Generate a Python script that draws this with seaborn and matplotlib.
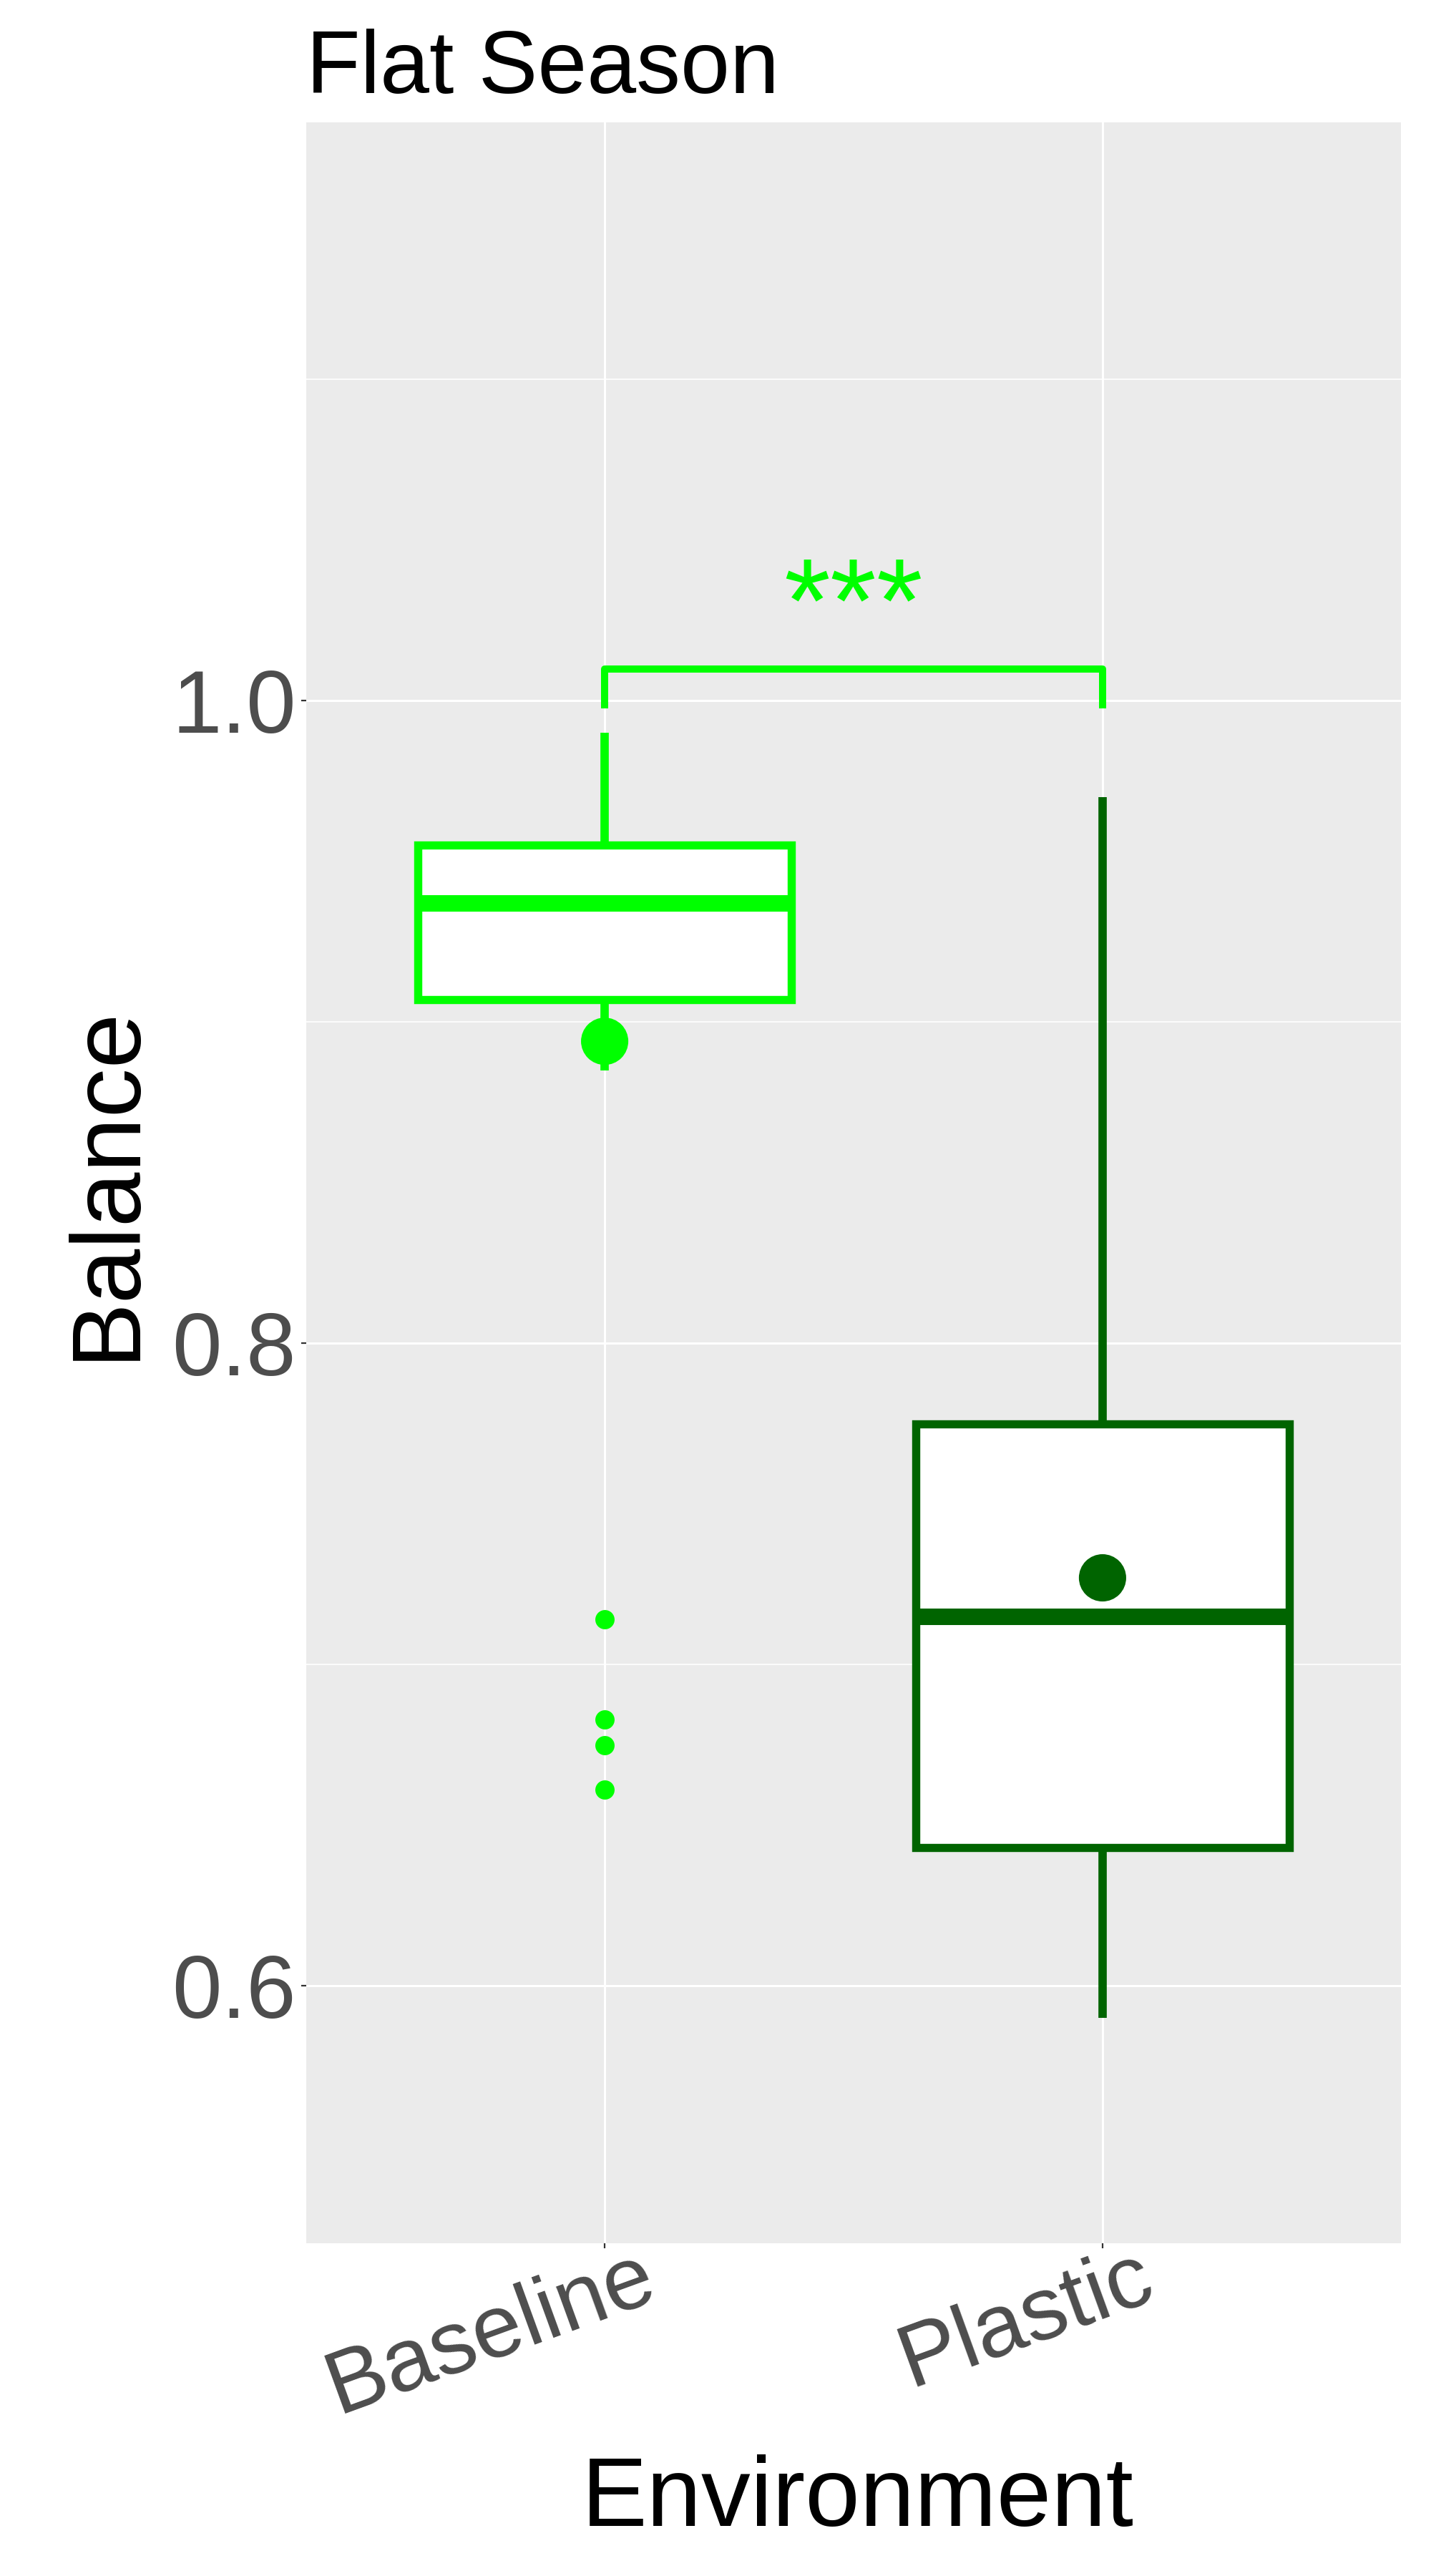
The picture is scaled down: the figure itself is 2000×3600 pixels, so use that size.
import matplotlib
matplotlib.use("Agg")
import matplotlib.pyplot as plt
import matplotlib.transforms as mtransforms
import pandas as pd
import seaborn as sns

# Dane (Flat Season)
environments = ["Baseline", "Plastic"]
box_colors = ["#00FF00", "#006400"]
q1 = [0.907, 0.643]
medians = [0.937, 0.715]
q3 = [0.955, 0.775]
whisker_low = [0.885, 0.590]
whisker_high = [0.990, 0.970]
means = [0.894, 0.727]
outlier_env = ["Baseline", "Baseline", "Baseline", "Baseline"]
outlier_values = [0.714, 0.683, 0.675, 0.661]
signif_pair = ["Baseline", "Plastic"]
signif_label = "***"
signif_y = 1.0098
signif_tick = 0.9977

sns.set_theme(style="darkgrid", rc={
    "axes.facecolor": "#EBEBEB",
    "grid.color": "white",
    "axes.edgecolor": "#EBEBEB",
})
plt.rcParams["font.family"] = ["Liberation Sans", "DejaVu Sans"]

fig = plt.figure(figsize=(10, 18), dpi=200)
ax = fig.add_axes([0.2138, 0.1293, 0.7654, 0.8232])

pos = {e: i for i, e in enumerate(environments)}

# Pudelka z wartosci
stats = []
for i, e in enumerate(environments):
    stats.append(dict(label=e, q1=q1[i], med=medians[i], q3=q3[i],
                      whislo=whisker_low[i], whishi=whisker_high[i], fliers=[]))
art = ax.bxp(stats, positions=list(range(len(environments))), widths=0.75,
             patch_artist=True, showcaps=False, showfliers=False, manage_ticks=False)
for i, c in enumerate(box_colors):
    art["boxes"][i].set(facecolor="white", edgecolor=c, linewidth=4.1, zorder=2)
    art["medians"][i].set(color=c, linewidth=8.3, solid_capstyle="butt", zorder=3)
    for w in art["whiskers"][2 * i:2 * i + 2]:
        w.set(color=c, linewidth=4.2, solid_capstyle="butt", zorder=1.5)

# Srednie i obserwacje odstajace
means_df = pd.DataFrame({"x": [pos[e] for e in environments], "y": means, "env": environments})
sns.scatterplot(data=means_df, x="x", y="y", hue="env", palette=box_colors, s=566,
                linewidth=0, legend=False, ax=ax, zorder=4)
out_df = pd.DataFrame({"x": [pos[e] for e in outlier_env], "y": outlier_values, "env": outlier_env})
sns.scatterplot(data=out_df, x="x", y="y", color=box_colors[0], s=94,
                linewidth=0, legend=False, ax=ax, zorder=4)

# Istotnosc
x1, x2 = pos[signif_pair[0]], pos[signif_pair[1]]
ax.plot([x1, x1, x2, x2], [signif_tick, signif_y, signif_y, signif_tick],
        color=box_colors[0], lw=3.6, solid_capstyle="butt", zorder=3)
ax.text((x1 + x2) / 2, 1.0185, signif_label, ha="center", va="baseline",
        fontsize=60, color=box_colors[0])

ax.set_xlim(-0.6, 1.6)
ax.set_ylim(0.52, 1.18)
ax.set_yticks([0.6, 0.8, 1.0], ["0.6", "0.8", "1.0"])
ax.set_yticks([0.7, 0.9, 1.1], minor=True)
ax.set_xticks(range(len(environments)), environments, rotation=20, ha="right")
ax.grid(which="major", color="white", lw=1.1)
ax.grid(which="minor", axis="y", color="white", lw=0.6)
ax.set_axisbelow(True)
for s in ax.spines.values():
    s.set_visible(False)

ax.tick_params(axis="both", which="major", bottom=True, left=True, length=2.5, width=0.8,
               color="#333333", labelcolor="#4D4D4D", labelsize=45)
ax.tick_params(axis="y", which="major", pad=2.4)
ax.tick_params(axis="x", which="major", pad=6.7)
ax.tick_params(which="minor", length=0)
shift = mtransforms.ScaledTranslation(86 / 200, 35 / 200, fig.dpi_scale_trans)
for lab in ax.get_xticklabels():
    lab.set_transform(lab.get_transform() + shift)

ax.set_xlabel("Environment", fontsize=49.5, color="black")
ax.set_ylabel("Balance", fontsize=49.5, color="black")
ax.xaxis.set_label_coords(0.504, -0.1335)
ax.xaxis.label.set_va("baseline")
ax.yaxis.set_label_coords((186 - 427.6) / 1530.9, 0.5)
ax.yaxis.label.set_va("baseline")

fig.text(0.2138, 1 - 130 / 3600, "Flat Season", fontsize=44.6, ha="left", va="baseline", color="black")

fig.savefig("out.png", dpi=200)
